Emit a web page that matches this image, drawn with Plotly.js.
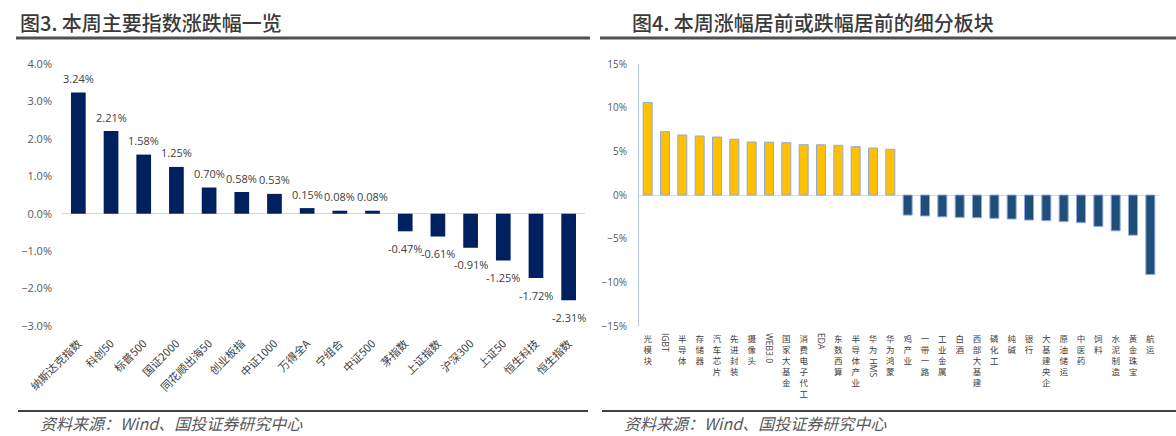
<!DOCTYPE html>
<html>
<head>
<meta charset="utf-8">
<script src="https://cdn.plot.ly/plotly-3.0.1.min.js"></script>
<style>html,body{margin:0;padding:0;background:#fff;}#chart{width:1176px;height:436px;}</style>
</head>
<body>
<div id="chart"></div>
<script>
// ---- Figure 3 data: weekly index changes (%) ----
const indexNames = ["纳斯达克指数","科创50","标普500","国证2000","同花顺出海50","创业板指","中证1000","万得全A","宁组合","中证500","茅指数","上证指数","沪深300","上证50","恒生科技","恒生指数"];
const indexChanges = [3.24, 2.21, 1.58, 1.25, 0.70, 0.58, 0.53, 0.15, 0.08, 0.08, -0.47, -0.61, -0.91, -1.25, -1.72, -2.31];

// ---- Figure 4 data: top / bottom sectors (%) ----
const sectorNames = ["光模块","IGBT","半导体","存储器","汽车芯片","先进封装","摄像头","WEB3.0","国家大基金","消费电子代工","EDA","东数西算","半导体产业","华为HMS","华为鸿蒙","鸡产业","一带一路","工业金属","白酒","西部大基建","磷化工","纯碱","银行","大基建央企","原油储运","中医药","饲料","水泥制造","黄金珠宝","航运"];
const sectorChanges = [10.6, 7.25, 6.87, 6.76, 6.64, 6.38, 6.07, 6.05, 5.99, 5.76, 5.75, 5.69, 5.53, 5.38, 5.23, -2.3, -2.4, -2.5, -2.56, -2.6, -2.67, -2.75, -2.87, -2.94, -3.05, -3.17, -3.6, -4.1, -4.6, -9.1];

// ---- Text ----
const title3 = "图3. 本周主要指数涨跌幅一览";
const title4 = "图4. 本周涨幅居前或跌幅居前的细分板块";
const sourceText = "资料来源：Wind、国投证券研究中心";

const W = 1176, H = 436;
const px = v => v / W, py = v => 1 - v / H;
const CJK = "Noto Sans CJK SC";

// split sector labels: CJK chars stacked vertically, Latin runs rotated on an overlay axis
function cjkPart(s) {
  const chars = [];
  for (const ch of s) { if (/[\u4e00-\u9fff]/.test(ch)) chars.push(ch); }
  return chars.join("<br>");
}
function latinPart(s) {
  let lead = 0, latin = "";
  for (const ch of s) {
    if (/[\u4e00-\u9fff]/.test(ch)) { if (!latin) lead++; }
    else latin += ch;
  }
  if (!latin) return "";
  return "\u2003".repeat(lead) + "\u2002".repeat(lead) + latin;
}

const traces = [
  {
    type: "bar", x: indexNames, y: indexChanges, xaxis: "x", yaxis: "y",
    marker: {color: "#002060"}, width: 0.45, hoverinfo: "skip"
  },
  {
    type: "bar", x: sectorNames, y: sectorChanges, xaxis: "x2", yaxis: "y2",
    marker: {color: sectorChanges.map(v => v >= 0 ? "#FFC000" : "#1F4E79"),
             line: {color: "#8FAADC", width: 1}},
    width: 0.52, hoverinfo: "skip"
  },
  {
    type: "scatter", mode: "markers", x: sectorNames, y: sectorChanges.map(() => 0),
    xaxis: "x3", yaxis: "y2", marker: {opacity: 0}, hoverinfo: "skip"
  }
];

const annotations = indexChanges.map((v, i) => ({
  x: indexNames[i], y: v, xref: "x", yref: "y",
  text: (v >= 0 ? "" : "-") + Math.abs(v).toFixed(2) + "%",
  showarrow: false, yshift: v >= 0 ? 14 : -17,
  font: {family: "Open Sans", size: 11, color: "#404040"}
}));

annotations.push(
  {xref: "paper", yref: "paper", x: px(18), y: py(22), xanchor: "left", yanchor: "middle",
   text: title3, showarrow: false, font: {family: CJK, size: 20, weight: 500, color: "#3a3a3a"}},
  {xref: "paper", yref: "paper", x: px(630), y: py(22), xanchor: "left", yanchor: "middle",
   text: title4, showarrow: false, font: {family: CJK, size: 20, weight: 500, color: "#3a3a3a"}},
  {xref: "paper", yref: "paper", x: px(38), y: py(423), xanchor: "left", yanchor: "middle",
   text: "<i>" + sourceText + "</i>", showarrow: false, font: {family: CJK, size: 16, color: "#595959"}},
  {xref: "paper", yref: "paper", x: px(622), y: py(423), xanchor: "left", yanchor: "middle",
   text: "<i>" + sourceText + "</i>", showarrow: false, font: {family: CJK, size: 16, color: "#595959"}}
);

const shapes = [
  {type: "line", xref: "paper", yref: "paper", x0: px(16), x1: px(590), y0: py(38), y1: py(38), line: {color: "#505050", width: 3}},
  {type: "line", xref: "paper", yref: "paper", x0: px(600), x1: 1, y0: py(38), y1: py(38), line: {color: "#505050", width: 3}},
  {type: "line", xref: "paper", yref: "paper", x0: px(18), x1: px(588), y0: py(411), y1: py(411), line: {color: "#404040", width: 2}},
  {type: "line", xref: "paper", yref: "paper", x0: px(602), x1: 1, y0: py(411), y1: py(411), line: {color: "#404040", width: 2}}
];

const yDom = [py(326), py(64)];
const layout = {
  width: W, height: H,
  margin: {l: 0, r: 0, t: 0, b: 0},
  paper_bgcolor: "#fff", plot_bgcolor: "rgba(0,0,0,0)",
  showlegend: false,
  xaxis: {
    domain: [px(62), px(585)], anchor: "y", type: "category",
    range: [-0.5, indexNames.length - 0.5],
    tickangle: -45, showgrid: false, showline: false, ticks: "",
    ticklabelstandoff: 8,
    tickfont: {family: CJK, size: 11, color: "#404040"}
  },
  yaxis: {
    domain: yDom, anchor: "x", range: [-3, 4], dtick: 1,
    tickformat: ".1f", ticksuffix: "%", showgrid: false, showline: false, ticks: "",
    zeroline: true, zerolinecolor: "#D9D9D9", zerolinewidth: 1,
    ticklabelstandoff: 9,
    tickfont: {family: "Open Sans", size: 11, color: "#595959"}
  },
  xaxis2: {
    domain: [px(639), px(1159)], anchor: "y2", type: "category",
    range: [-0.5, sectorNames.length - 0.5],
    tickmode: "array", tickvals: sectorNames, ticktext: sectorNames.map(cjkPart),
    tickangle: 0, showgrid: false, showline: false, ticks: "",
    ticklabelstandoff: 6,
    tickfont: {family: CJK, size: 8.5, color: "#404040"}
  },
  xaxis3: {
    domain: [px(639), px(1159)], anchor: "y2", overlaying: "x2", type: "category",
    range: [-0.5, sectorNames.length - 0.5],
    tickmode: "array", tickvals: sectorNames, ticktext: sectorNames.map(latinPart),
    tickangle: 90, showgrid: false, showline: false, ticks: "",
    ticklabelstandoff: 6,
    tickfont: {family: "Open Sans", size: 8.5, color: "#404040"}
  },
  yaxis2: {
    domain: yDom, anchor: "x2", range: [-15, 15], dtick: 5,
    tickformat: "d", ticksuffix: "%", showgrid: false,
    showline: true, linecolor: "#B4C7E7", linewidth: 1, ticks: "",
    zeroline: true, zerolinecolor: "#D9D9D9", zerolinewidth: 1,
    ticklabelstandoff: 9,
    tickfont: {family: "Open Sans", size: 10, color: "#595959"}
  },
  annotations: annotations,
  shapes: shapes
};

Plotly.newPlot("chart", traces, layout, {displayModeBar: false, staticPlot: true});
</script>
</body>
</html>
